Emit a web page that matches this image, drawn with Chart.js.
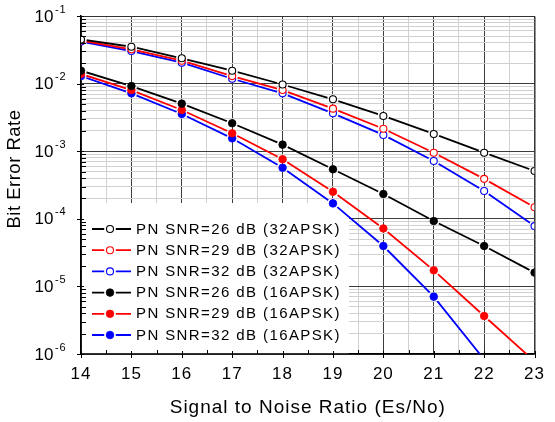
<!DOCTYPE html>
<html><head><meta charset="utf-8">
<script src="https://cdn.jsdelivr.net/npm/chart.js@4.4.1/dist/chart.umd.min.js"></script>
<style>html,body{margin:0;padding:0;background:#fff;}#wrap{width:555px;height:422px;position:relative;}</style>
</head><body><div id="wrap"><canvas id="c" width="555" height="422"></canvas></div>
<script>
// ---- data ----
const snrValues = [14, 15, 16, 17, 18, 19, 20, 21, 22, 23];
const ber32_26 = [0.0450, 0.0351, 0.0237, 0.0155, 0.0097, 0.00586, 0.00332, 0.00180, 0.00095, 0.000509];
const ber32_29 = [0.0434, 0.0321, 0.0218, 0.0129, 0.00803, 0.00426, 0.00215, 0.00095, 0.00039, 0.000148];
const ber32_32 = [0.0418, 0.0303, 0.0204, 0.0118, 0.00718, 0.00363, 0.00174, 0.000716, 0.000258, 0.000078];
const ber16_26 = [0.0155, 0.0092, 0.00505, 0.00259, 0.00125, 0.00054, 0.000233, 0.0000927, 0.0000396, 0.000016];
const ber16_29 = [0.0139, 0.00803, 0.00407, 0.00184, 0.00076, 0.000251, 0.000072, 0.0000173, 0.00000365, 0.00000078];
const ber16_32 = [0.0129, 0.00718, 0.00355, 0.00155, 0.00057, 0.000169, 0.0000396, 0.00000705, 0.00000083, null];
const seriesLabels = [
  'PN SNR=26 dB (32APSK)', 'PN SNR=29 dB (32APSK)', 'PN SNR=32 dB (32APSK)',
  'PN SNR=26 dB (16APSK)', 'PN SNR=29 dB (16APSK)', 'PN SNR=32 dB (16APSK)'
];
const xTickLabels = ['14', '15', '16', '17', '18', '19', '20', '21', '22', '23'];
const yDecadeExponents = [-6, -5, -4, -3, -2, -1];
const xTitle = 'Signal to Noise Ratio (Es/No)';
const yTitle = 'Bit Error Rate';

const FONT = "'Liberation Sans', Arial, sans-serif";
const GAP = 5.8;

function makeSet(label, values, color, open) {
  return {
    label,
    data: values.map((v, i) => ({ x: snrValues[i], y: v })),
    borderColor: color,
    backgroundColor: color,
    pointBackgroundColor: open ? '#ffffff' : color,
    pointBorderColor: color,
    pointRadius: open ? 3.5 : 3.8,
    pointBorderWidth: open ? 1.1 : 0.8,
    pointHoverRadius: open ? 3.5 : 3.8,
    borderWidth: 1.8,
    tension: 0,
    fill: false,
    clip: 0,
    isOpen: open
  };
}

const datasets = [
  makeSet(seriesLabels[0], ber32_26, '#000000', true),
  makeSet(seriesLabels[1], ber32_29, '#ff0000', true),
  makeSet(seriesLabels[2], ber32_32, '#0000ff', true),
  makeSet(seriesLabels[3], ber16_26, '#000000', false),
  makeSet(seriesLabels[4], ber16_29, '#ff0000', false),
  makeSet(seriesLabels[5], ber16_32, '#0000ff', false)
];

const yTickValues = [];
yDecadeExponents.forEach(e => {
  for (let m = 1; m <= 9; m++) yTickValues.push(Number((m * Math.pow(10, e)).toPrecision(3)));
});
yTickValues.push(Math.pow(10, yDecadeExponents[yDecadeExponents.length - 1] + 1));

const xTickValues = [];
xTickLabels.forEach((t, i) => {
  const v = Number(t);
  xTickValues.push(v);
  if (i < xTickLabels.length - 1) xTickValues.push(v + 0.5);
});

function isDecade(v) {
  const l = Math.log10(v);
  return Math.abs(l - Math.round(l)) < 1e-6;
}

const spacingPlugin = {
  id: 'spacing',
  beforeLayout(chart) { chart.ctx.letterSpacing = '1px'; },
  beforeDraw(chart) { chart.ctx.letterSpacing = '1px'; }
};

const gapPlugin = {
  id: 'gap',
  beforeDatasetDraw(chart, args) {
    const ctx = chart.ctx, a = chart.chartArea;
    ctx.save();
    ctx.beginPath();
    ctx.rect(a.left - 10, a.top - 10, a.right - a.left + 20, a.bottom - a.top + 20);
    args.meta.data.forEach(p => {
      if (p.skip) return;
      ctx.moveTo(p.x + GAP, p.y);
      ctx.arc(p.x, p.y, GAP, 0, Math.PI * 2);
    });
    ctx.clip('evenodd');
  },
  afterDatasetDraw(chart, args) {
    const ctx = chart.ctx, a = chart.chartArea;
    ctx.restore();
    ctx.save();
    ctx.beginPath();
    ctx.rect(a.left, a.top, a.right - a.left, a.bottom - a.top);
    ctx.clip();
    args.meta.data.forEach(p => { if (!p.skip) p.draw(ctx, a); });
    ctx.restore();
  }
};

const legendPlugin = {
  id: 'boxLegend',
  beforeDatasetsDraw(chart) {
    const ctx = chart.ctx;
    ctx.save();
    ctx.fillStyle = '#ffffff';
    ctx.fillRect(82, 203, 267, 150.2);
    ctx.restore();
  },
  afterDatasetsDraw(chart) {
    const ctx = chart.ctx;
    ctx.save();
    chart.data.datasets.forEach((ds, i) => {
      const y = 229 + i * 21.2;
      const mx = 110;
      ctx.strokeStyle = ds.borderColor;
      ctx.lineWidth = 1.8;
      ctx.beginPath();
      ctx.moveTo(92, y); ctx.lineTo(mx - GAP, y);
      ctx.moveTo(mx + GAP, y); ctx.lineTo(131, y);
      ctx.stroke();
      ctx.beginPath();
      ctx.arc(mx, y, ds.pointRadius, 0, Math.PI * 2);
      ctx.fillStyle = ds.pointBackgroundColor;
      ctx.fill();
      ctx.lineWidth = ds.pointBorderWidth;
      ctx.strokeStyle = ds.pointBorderColor;
      ctx.stroke();
      ctx.fillStyle = '#000000';
      ctx.font = '15px ' + FONT;
      ctx.letterSpacing = '1.4px';
      ctx.textAlign = 'left';
      ctx.textBaseline = 'middle';
      ctx.fillText(ds.label, 136, y + 0.5);
    });
    ctx.restore();
  }
};

const axisDecor = {
  id: 'axisDecor',
  afterDraw(chart) {
    const ctx = chart.ctx, a = chart.chartArea;
    const xs = chart.scales.x, ys = chart.scales.y;
    ctx.save();
    // frame top/right
    ctx.strokeStyle = '#333333';
    ctx.lineWidth = 1;
    ctx.beginPath();
    ctx.moveTo(a.left, a.top + 0.5); ctx.lineTo(a.right + 0.5, a.top + 0.5);
    ctx.lineTo(a.right + 0.5, a.bottom);
    ctx.stroke();
    // tick marks
    ctx.strokeStyle = '#000000';
    ctx.lineWidth = 1;
    ctx.beginPath();
    xTickValues.forEach(v => {
      const px = Math.round(xs.getPixelForValue(v)) + 0.5;
      if (Number.isInteger(v)) { ctx.moveTo(px, a.bottom - 3); ctx.lineTo(px, a.bottom + 4); }
      else { ctx.moveTo(px, a.bottom - 4); ctx.lineTo(px, a.bottom); }
    });
    yTickValues.forEach(v => {
      const py = Math.round(ys.getPixelForValue(v)) + 0.5;
      if (isDecade(v)) { ctx.moveTo(a.left - 4, py); ctx.lineTo(a.left + 3, py); }
      else { ctx.moveTo(a.left, py); ctx.lineTo(a.left + 5, py); }
    });
    ctx.stroke();
    // y tick labels 10^n
    ctx.fillStyle = '#000000';
    ctx.letterSpacing = '0px';
    yDecadeExponents.concat([yDecadeExponents[yDecadeExponents.length - 1] + 1]).forEach(e => {
      const py = ys.getPixelForValue(Math.pow(10, e));
      ctx.font = '17px ' + FONT;
      ctx.textAlign = 'right';
      ctx.textBaseline = 'middle';
      ctx.fillText('10', 53.5, py + 1);
      ctx.font = '11px ' + FONT;
      ctx.textAlign = 'left';
      ctx.letterSpacing = '0.8px';
      ctx.fillText(String(e), 55, py - 6.5);
      ctx.letterSpacing = '0px';
    });
    // y title
    ctx.save();
    ctx.translate(15, 169);
    ctx.rotate(-Math.PI / 2);
    ctx.font = '18.5px ' + FONT;
    ctx.letterSpacing = '0.5px';
    ctx.textAlign = 'center';
    ctx.textBaseline = 'middle';
    ctx.fillText(yTitle, 0, 0);
    ctx.restore();
    ctx.restore();
  }
};

new Chart(document.getElementById('c'), {
  type: 'line',
  data: { datasets },
  options: {
    responsive: false,
    animation: false,
    events: [],
    layout: { padding: { left: 0, top: 16, right: 11, bottom: 0 } },
    plugins: { legend: { display: false }, tooltip: { enabled: false } },
    scales: {
      x: {
        type: 'linear',
        min: 14, max: 23,
        afterBuildTicks: s => { s.ticks = xTickValues.map(v => ({ value: v })); },
        afterFit: s => { s.height = 68; },
        grid: {
          color: c => (c.tick && Number.isInteger(c.tick.value)) ? '#3c3c3c' : '#d0d0d0',
          lineWidth: 1,
          drawTicks: false
        },
        border: { display: true, color: '#000000', width: 1.5 },
        ticks: {
          autoSkip: false, maxRotation: 0, minRotation: 0,
          padding: 10,
          color: '#000000',
          font: { family: FONT, size: 17 },
          callback: v => Number.isInteger(v) ? xTickLabels[xTickValues.filter(Number.isInteger).indexOf(v)] : ''
        },
        title: {
          display: true, text: xTitle, color: '#000000',
          font: { family: FONT, size: 19 },
          padding: { top: 0, bottom: 3 }
        }
      },
      y: {
        type: 'logarithmic',
        min: 1e-6, max: 1e-1,
        afterBuildTicks: s => { s.ticks = yTickValues.map(v => ({ value: v })); },
        afterFit: s => { s.width = 81; },
        grid: {
          color: c => (c.tick && isDecade(c.tick.value)) ? '#3c3c3c' : '#d0d0d0',
          lineWidth: 1,
          drawTicks: false
        },
        border: { display: true, color: '#000000', width: 1.5 },
        ticks: { display: false }
      }
    }
  },
  plugins: [spacingPlugin, gapPlugin, legendPlugin, axisDecor]
});
</script>
</body></html>
